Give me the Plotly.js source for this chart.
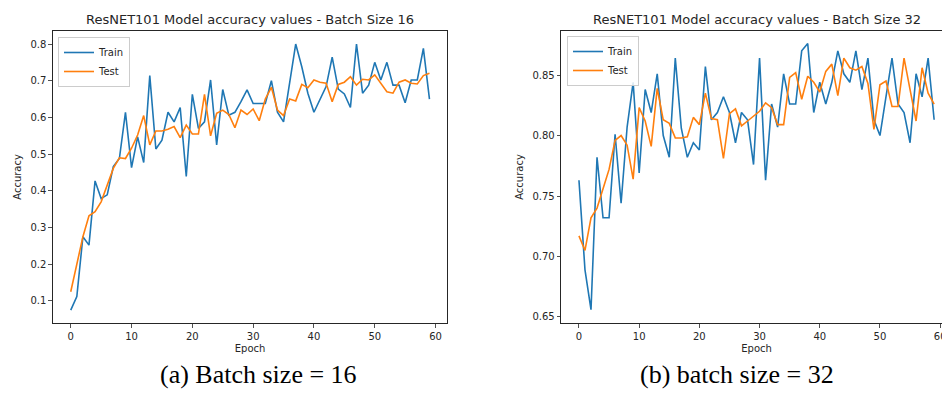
<!DOCTYPE html>
<html>
<head>
<meta charset="utf-8">
<script src="https://cdn.plot.ly/plotly-3.0.1.min.js"></script>
<style>
html, body { margin: 0; padding: 0; overflow: hidden; background: #fff; width: 942px; height: 396px; }
#chart { width: 960px; height: 396px; }
</style>
</head>
<body>
<div id="chart"></div>
<script>
// ---- Data ----
const epochs = [0,1,2,3,4,5,6,7,8,9,10,11,12,13,14,15,16,17,18,19,20,21,22,23,24,25,26,27,28,29,30,31,32,33,34,35,36,37,38,39,40,41,42,43,44,45,46,47,48,49,50,51,52,53,54,55,56,57,58,59];

const trainAcc16 = [0.075,0.112,0.275,0.252,0.427,0.379,0.389,0.466,0.488,0.614,
                    0.463,0.547,0.477,0.714,0.514,0.538,0.614,0.588,0.627,0.439,
                    0.663,0.570,0.588,0.702,0.525,0.676,0.606,0.614,0.643,0.675,
                    0.638,0.638,0.638,0.700,0.614,0.588,0.694,0.800,0.738,0.666,
                    0.614,0.647,0.684,0.764,0.677,0.664,0.627,0.800,0.666,0.688,
                    0.750,0.702,0.750,0.688,0.688,0.640,0.702,0.702,0.788,0.650];
const testAcc16  = [0.125,0.202,0.275,0.332,0.343,0.370,0.418,0.461,0.490,0.488,
                    0.516,0.552,0.605,0.525,0.563,0.563,0.568,0.575,0.545,0.579,
                    0.555,0.555,0.663,0.550,0.611,0.620,0.608,0.572,0.620,0.608,
                    0.623,0.591,0.650,0.682,0.620,0.605,0.650,0.645,0.690,0.681,
                    0.702,0.696,0.693,0.643,0.690,0.696,0.711,0.688,0.704,0.702,
                    0.716,0.693,0.670,0.666,0.696,0.702,0.693,0.691,0.714,0.720];

const trainAcc32 = [0.763,0.689,0.656,0.782,0.732,0.732,0.801,0.744,0.807,0.844,
                    0.769,0.838,0.819,0.851,0.800,0.782,0.864,0.806,0.782,0.794,
                    0.788,0.857,0.813,0.819,0.832,0.819,0.794,0.819,0.813,0.776,
                    0.864,0.763,0.826,0.807,0.851,0.826,0.826,0.870,0.876,0.819,
                    0.844,0.826,0.844,0.870,0.851,0.844,0.870,0.838,0.864,0.813,
                    0.800,0.832,0.864,0.826,0.819,0.794,0.851,0.832,0.864,0.813];
const testAcc32  = [0.717,0.705,0.732,0.740,0.756,0.772,0.796,0.800,0.792,0.764,
                    0.823,0.812,0.791,0.839,0.813,0.810,0.798,0.798,0.799,0.815,
                    0.809,0.835,0.814,0.813,0.781,0.818,0.822,0.808,0.812,0.816,
                    0.820,0.827,0.823,0.809,0.809,0.848,0.852,0.830,0.849,0.844,
                    0.836,0.853,0.859,0.833,0.864,0.856,0.854,0.857,0.843,0.805,
                    0.842,0.845,0.824,0.824,0.864,0.838,0.812,0.856,0.835,0.826];

const xTicks = [0,10,20,30,40,50,60];
const yTicks16 = [0.1,0.2,0.3,0.4,0.5,0.6,0.7,0.8];
const yTicks32 = [0.65,0.70,0.75,0.80,0.85];

const seriesNames = ['Train','Test'];
const plotTitles = ['ResNET101 Model accuracy values - Batch Size 16','ResNET101 Model accuracy values - Batch Size 32'];
const captions = ['(a) Batch size = 16','(b) batch size = 32'];
const xLabel = 'Epoch';
const yLabel = 'Accuracy';

// ---- Layout helpers ----
const W = 960, H = 396;
const BLUE = '#1f77b4', ORANGE = '#ff7f0e';
const FONT = 'DejaVu Sans, Verdana, sans-serif';
const INK = '#262626';

function line(x, y, name, color, xa, ya, lg) {
  return { x: x, y: y, name: name, type: 'scatter', mode: 'lines',
           line: { color: color, width: 1.6 }, xaxis: xa, yaxis: ya, legend: lg };
}

const traces = [
  line(epochs, trainAcc16, seriesNames[0], BLUE,   'x',  'y',  'legend'),
  line(epochs, testAcc16,  seriesNames[1], ORANGE, 'x',  'y',  'legend'),
  line(epochs, trainAcc32, seriesNames[0], BLUE,   'x2', 'y2', 'legend2'),
  line(epochs, testAcc32,  seriesNames[1], ORANGE, 'x2', 'y2', 'legend2')
];

function axisBase() {
  return {
    showline: true, mirror: true, linecolor: INK, linewidth: 1,
    ticks: 'outside', ticklen: 3.5, tickwidth: 0.8, tickcolor: INK,
    tickfont: { family: FONT, size: 10, color: INK },
    showgrid: false, zeroline: false, fixedrange: true
  };
}

const yDom = [1 - 323.4 / H, 1 - 30.5 / H];

const xaxis = Object.assign(axisBase(), {
  domain: [52.8 / W, 447.4 / W], range: [-2.95, 61.95], anchor: 'y',
  tickvals: xTicks, ticktext: xTicks.map(String),
  title: { text: xLabel, font: { family: FONT, size: 10, color: INK }, standoff: 4 }
});
const yaxis = Object.assign(axisBase(), {
  domain: yDom, range: [0.0388, 0.8368], anchor: 'x',
  tickvals: yTicks16, ticktext: yTicks16.map(v => v.toFixed(1)),
  title: { text: yLabel, font: { family: FONT, size: 10, color: INK }, standoff: 6 }
});
const xaxis2 = Object.assign(axisBase(), {
  domain: [561.2 / W, 951.9 / W], range: [-2.95, 61.95], anchor: 'y2',
  tickvals: xTicks, ticktext: xTicks.map(String),
  title: { text: xLabel, font: { family: FONT, size: 10, color: INK }, standoff: 4 }
});
const yaxis2 = Object.assign(axisBase(), {
  domain: yDom, range: [0.6447, 0.8868], anchor: 'x2',
  tickvals: yTicks32, ticktext: yTicks32.map(v => v.toFixed(2)),
  title: { text: yLabel, font: { family: FONT, size: 10, color: INK }, standoff: 6 }
});

function legendAt(px, py) {
  return {
    x: px / W, y: 1 - py / H, xanchor: 'left', yanchor: 'top',
    bgcolor: 'rgba(255,255,255,0.85)', bordercolor: '#cccccc', borderwidth: 1,
    font: { family: FONT, size: 10, color: INK }, itemwidth: 30, tracegroupgap: 0
  };
}

const annotations = [
  { text: plotTitles[0], x: 250 / W, y: 1 - 19 / H, xref: 'paper', yref: 'paper',
    xanchor: 'center', yanchor: 'middle', showarrow: false,
    font: { family: FONT, size: 13, color: INK } },
  { text: plotTitles[1], x: 757 / W, y: 1 - 19 / H, xref: 'paper', yref: 'paper',
    xanchor: 'center', yanchor: 'middle', showarrow: false,
    font: { family: FONT, size: 13, color: INK } },
  { text: captions[0], x: 258 / W, y: 1 - 374 / H, xref: 'paper', yref: 'paper',
    xanchor: 'center', yanchor: 'middle', showarrow: false,
    font: { family: 'Liberation Serif, Times New Roman, serif', size: 26, color: '#000' } },
  { text: captions[1], x: 737 / W, y: 1 - 374 / H, xref: 'paper', yref: 'paper',
    xanchor: 'center', yanchor: 'middle', showarrow: false,
    font: { family: 'Liberation Serif, Times New Roman, serif', size: 26, color: '#000' } }
];

const layout = {
  width: W, height: H, autosize: false,
  margin: { l: 0, r: 0, t: 0, b: 0, pad: 0 },
  paper_bgcolor: '#fff', plot_bgcolor: '#fff',
  showlegend: true,
  legend: legendAt(58, 37),
  legend2: legendAt(567, 36),
  xaxis: xaxis, yaxis: yaxis, xaxis2: xaxis2, yaxis2: yaxis2,
  annotations: annotations
};

Plotly.newPlot('chart', traces, layout, { displayModeBar: false, staticPlot: true });
</script>
</body>
</html>
